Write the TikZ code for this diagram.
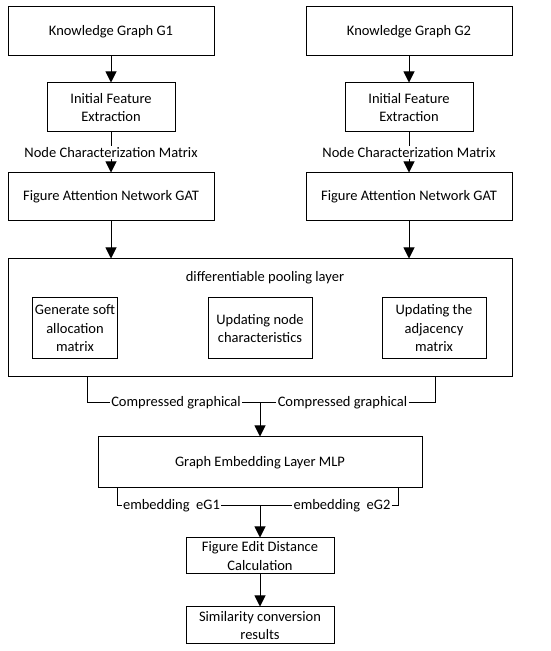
\documentclass[tikz,border=0pt]{standalone}
\usepackage{fontspec}
\setmainfont{Carlito}
\usetikzlibrary{arrows.meta,positioning,calc}

\begin{document}
\begin{tikzpicture}[
  x=1pt, y=1pt, line width=1pt,
  box/.style={draw, align=center, font=\fontsize{14.5}{18.5}\selectfont, inner sep=2pt},
  wide/.style={box, minimum width=206pt, minimum height=49pt},
  mid/.style={box, minimum width=128pt, minimum height=49pt},
  sub/.style={box, minimum width=104pt, minimum height=61pt},
  lbl/.style={font=\fontsize{14.5}{18.5}\selectfont, fill=white, inner sep=1pt},
  >={Triangle[width=11pt,length=11pt]}
]
  \useasboundingbox (0,0) rectangle (550,651);

  % two input columns
  \node[wide] (kg1) at (111,619.5) {Knowledge Graph G1};
  \node[wide] (kg2) at (409,619.5) {Knowledge Graph G2};
  \node[mid, below=26pt of kg1] (ife1) {Initial Feature\\Extraction};
  \node[mid, below=26pt of kg2] (ife2) {Initial Feature\\Extraction};
  \node[wide, minimum height=48pt, below=40pt of ife1] (gat1) {Figure Attention Network GAT};
  \node[wide, minimum height=48pt, below=40pt of ife2] (gat2) {Figure Attention Network GAT};

  % pooling layer
  \node[box, minimum width=504pt, minimum height=118pt] (dpl) at (260,333) {};
  \node[font=\fontsize{14.5}{18.5}\selectfont] (dplt) at (265,373) {differentiable pooling layer};
  \node[sub, minimum width=82pt] (gen) at (75,322.5) {Generate soft\\allocation\\matrix};
  \node[sub] (upn) at (260,322.5) {Updating node\\characteristics};
  \node[sub] (upa) at (434,322.5) {Updating the\\adjacency\\matrix};

  \node[lbl] (cg1) at (176,248) {Compressed graphical};
  \node[lbl] (cg2) at (342.5,248) {Compressed graphical};
  \coordinate (cl) at (87,274);
  \coordinate (cr) at (435,274);

  \node[box, minimum width=324pt, minimum height=51pt] (mlp) at (260,188.5) {Graph Embedding Layer MLP};
  \node[lbl] (e1) at (171.5,145) {embedding~~eG1};
  \node[lbl] (e2) at (342,145) {embedding~~eG2};
  \coordinate (el) at (117,163);
  \coordinate (er) at (398,163);

  \node[box, minimum width=148pt, minimum height=36pt] (fed) at (260,95) {Figure Edit Distance\\Calculation};
  \node[box, minimum width=148pt, minimum height=37pt] (scr) at (260,25.5) {Similarity conversion\\results};

  \draw[->] (kg1) -- (ife1);
  \draw[->] (kg2) -- (ife2);
  \draw[->] (ife1) -- node[lbl]{Node Characterization Matrix} (gat1);
  \draw[->] (ife2) -- node[lbl]{Node Characterization Matrix} (gat2);
  \draw[->] (gat1) -- (gat1 |- dpl.north);
  \draw[->] (gat2) -- (gat2 |- dpl.north);

  \draw (cl) |- (cg1.west);
  \draw (cg1.east) -- (cg2.west);
  \draw (cg2.east) -| (cr);
  \draw[->] (cg1.east -| dpl.south) -- (mlp);

  \draw (el) |- (e1.west);
  \draw (e1.east) -- (e2.west);
  \draw (e2.east) -| (er);
  \draw[->] (e1.east -| mlp.south) -- (fed);
  \draw[->] (fed) -- (scr);
\end{tikzpicture}
\end{document}
